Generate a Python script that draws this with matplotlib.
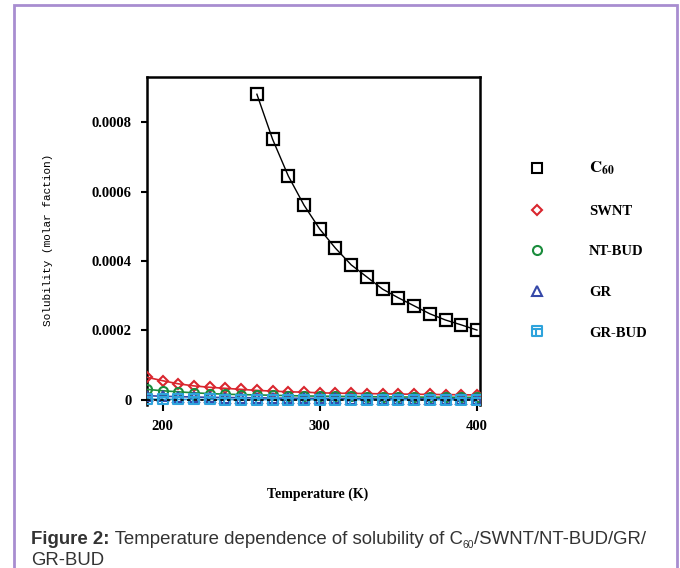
import matplotlib
matplotlib.use("Agg")
import matplotlib.pyplot as plt
import numpy as np
from matplotlib.path import Path
from matplotlib.lines import Line2D
from matplotlib.patches import Rectangle

plt.rcParams['mathtext.fontset'] = 'stix'

# temperatures (K)
temp_c60 = [260, 270, 280, 290, 300, 310, 320, 330, 340, 350, 360, 370, 380, 390, 400]
temp_all = [190, 200, 210, 220, 230, 240, 250, 260, 270, 280, 290,
            300, 310, 320, 330, 340, 350, 360, 370, 380, 390, 400]

# solubility (molar fraction)
c60 = [0.000881, 0.000751, 0.000645, 0.000561, 0.000492, 0.000437, 0.000389,
       0.000354, 0.000319, 0.000294, 0.000271, 0.000248, 0.000230, 0.000216, 0.000201]
swnt = [6.5e-5, 5.5e-5, 4.6e-5, 4.0e-5, 3.6e-5, 3.3e-5, 3.0e-5, 2.7e-5, 2.5e-5, 2.3e-5, 2.2e-5,
        2.0e-5, 1.9e-5, 1.85e-5, 1.8e-5, 1.7e-5, 1.65e-5, 1.6e-5, 1.55e-5, 1.5e-5, 1.45e-5, 1.4e-5]
nt_bud = [3.0e-5, 2.6e-5, 2.3e-5, 2.0e-5, 1.8e-5, 1.6e-5, 1.5e-5, 1.4e-5, 1.3e-5, 1.2e-5, 1.1e-5,
          1.05e-5, 1.0e-5, 9.5e-6, 9e-6, 8.5e-6, 8e-6, 8e-6, 7.5e-6, 7.5e-6, 7e-6, 7e-6]
gr = [1.2e-5, 1.0e-5, 9e-6, 8e-6, 7e-6, 6.5e-6, 6e-6, 5.5e-6, 5e-6, 4.5e-6, 4.2e-6,
      4e-6, 3.8e-6, 3.6e-6, 3.4e-6, 3.2e-6, 3e-6, 3e-6, 2.8e-6, 2.8e-6, 2.6e-6, 2.5e-6]
gr_bud = [2e-6, 1.5e-6, 1.2e-6, 1e-6, 1e-6, 8e-7, 8e-7, 7e-7, 6e-7, 6e-7, 5e-7,
          5e-7, 5e-7, 4e-7, 4e-7, 4e-7, 3e-7, 3e-7, 3e-7, 3e-7, 2e-7, 2e-7]

yticks = [0, 0.0002, 0.0004, 0.0006, 0.0008]
xticks = [200, 300, 400]

# square with cross-bars marker for GR-BUD
box_verts = [(-1, -1), (1, -1), (1, 1), (-1, 1), (-1, -1),
             (-1, 0.35), (1, 0.35), (-0.3, 0.35), (-0.3, -1)]
box_codes = [Path.MOVETO, Path.LINETO, Path.LINETO, Path.LINETO, Path.CLOSEPOLY,
             Path.MOVETO, Path.LINETO, Path.MOVETO, Path.LINETO]
box_marker = Path(box_verts, box_codes)

serif_b = dict(family='Liberation Serif', weight='bold')

fig = plt.figure(figsize=(6.8, 5.68), dpi=100)
ax = fig.add_axes([0.216, 0.287, 0.49, 0.577])

series = [
    ("SWNT", temp_all, swnt, '#d9262e', 'D', 5.5),
    ("NT-BUD", temp_all, nt_bud, '#1a8c3c', 'o', 6.5),
    ("GR", temp_all, gr, '#3548a8', '^', 6.5),
    ("GR-BUD", temp_all, gr_bud, '#2ea3dc', box_marker, 6.5),
]
ax.plot(temp_c60, c60, color='black', lw=1, marker='s', ms=9, mfc='none',
        mec='black', mew=1.6)
leg_handles = [Line2D([], [], ls='none', marker='s', ms=7, mfc='none', mec='black',
                      mew=1.5, label=r'$\mathbf{C_{60}}$')]
for name, xs, ys, col, mk, ms in series:
    ax.plot(xs, ys, color=col, lw=1.2, marker=mk, ms=ms, mfc='none',
            mec=col, mew=1.5, zorder=3)
    leg_handles.append(Line2D([], [], ls='none', marker=mk, ms=ms, mfc='none',
                              mec=col, mew=1.5, label=name))
ax.plot(temp_all, np.zeros(len(temp_all)), color='black', lw=1.2, ls=(0, (2, 2)), zorder=4)

ax.set_xlim(190, 402)
ax.set_ylim(-0.000015, 0.00093)
ax.set_xticks(xticks)
ax.set_yticks(yticks)
ax.set_yticklabels(['%g' % v for v in yticks])
for lab in ax.get_xticklabels() + ax.get_yticklabels():
    lab.set_fontfamily('Liberation Serif')
    lab.set_fontweight('bold')
    lab.set_fontsize(10.5)
ax.tick_params(direction='out', length=4, width=1.5, pad=7)
for sp in ax.spines.values():
    sp.set_linewidth(1.8)
ax.spines['bottom'].set_visible(False)

leg = fig.legend(handles=leg_handles, loc='upper left', bbox_to_anchor=(0.759, 0.742),
                 frameon=False, numpoints=1, handlelength=1, handletextpad=3.1,
                 labelspacing=1.88, prop=dict(family='Liberation Serif', weight='bold', size=10.5))
for t in leg.get_texts():
    if 'C_' in t.get_text():
        t.set_fontsize(12)

fig.text(0.467, 0.13, "Temperature (K)", ha='center', va='center', fontsize=10, **serif_b)
fig.text(0.071, 1 - 240 / 568, "Solubility (molar faction)", rotation=90, ha='center',
         va='center', fontsize=8, family='Liberation Mono')

# card border
fig.add_artist(Rectangle((14 / 680, -0.05), (677 - 14) / 680, 1.05 - 5 / 568,
                         transform=fig.transFigure, fill=False, ec='#a88dd0', lw=2))

# caption
cap_col = '#333333'
cap_size = 13.45
fig.canvas.draw()
r = fig.canvas.get_renderer()
inv = fig.transFigure.inverted()
y1 = 1 - 544 / 568
x0 = 31 / 680
t1 = fig.text(x0, y1, "Figure 2:", fontsize=cap_size, weight='bold',
              family='Liberation Sans', color=cap_col, va='baseline')
xe = inv.transform(t1.get_window_extent(r))[1][0]
t2 = fig.text(xe, y1, " Temperature dependence of solubility of C", fontsize=cap_size,
              family='Liberation Sans', color=cap_col, va='baseline')
xe = inv.transform(t2.get_window_extent(r))[1][0]
t3 = fig.text(xe, y1 - 4 / 568, "60", fontsize=7.5, family='Liberation Sans',
              color=cap_col, va='baseline')
xe = inv.transform(t3.get_window_extent(r))[1][0]
fig.text(xe, y1, "/SWNT/NT-BUD/GR/", fontsize=cap_size, family='Liberation Sans',
         color=cap_col, va='baseline')
fig.text(x0, 1 - 565 / 568, "GR-BUD", fontsize=cap_size, family='Liberation Sans',
         color=cap_col, va='baseline')

fig.savefig("out.png", dpi=100)
